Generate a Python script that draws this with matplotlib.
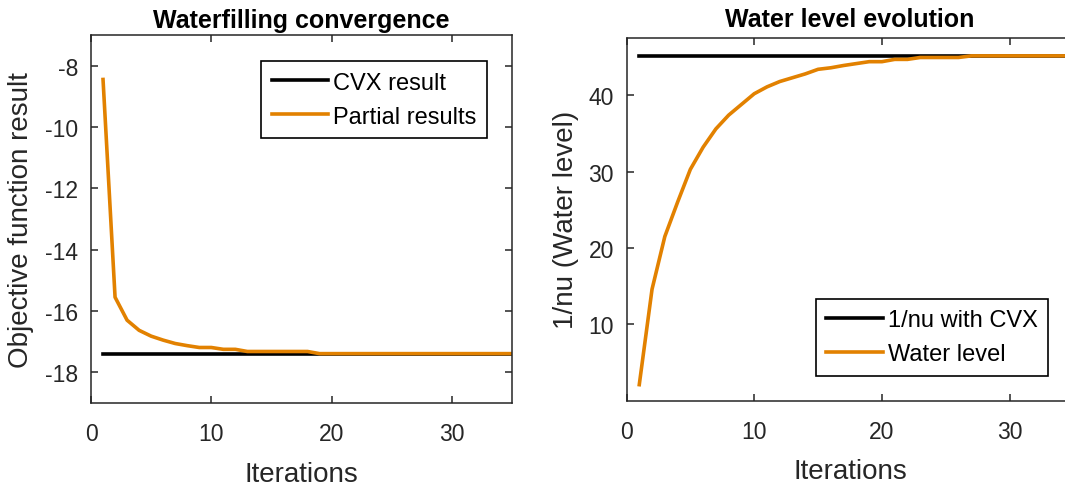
import numpy as np
import matplotlib.pyplot as plt

plt.rcParams['font.family'] = ['Liberation Sans', 'DejaVu Sans']
plt.rcParams['axes.unicode_minus'] = False

# left panel: objective value per iteration
iters = list(range(1, 36))
partial = [-8.45, -15.55, -16.30, -16.63, -16.82, -16.95, -17.06, -17.13, -17.19, -17.19,
           -17.25, -17.25, -17.32, -17.32, -17.32, -17.32, -17.32, -17.32] + [-17.39] * 17
cvx_obj = -17.40

# right panel: water level per iteration
water = [2.1, 14.6, 21.5, 26.0, 30.3, 33.2, 35.6, 37.4, 38.8, 40.2,
         41.1, 41.8, 42.3, 42.8, 43.4, 43.6, 43.9, 44.15, 44.4, 44.4,
         44.7, 44.7, 44.95, 44.95, 44.95, 44.95] + [45.16] * 9
cvx_level = 45.16

orange = '#E28100'
axcol = '#262626'

fig = plt.figure(figsize=(10.65, 4.89), dpi=100)
ax1 = fig.add_axes([91 / 1065, 85 / 489, 421 / 1065, 368 / 489])
ax2 = fig.add_axes([626.5 / 1065, 87.3 / 489, 447 / 1065, 362.7 / 489])


def style(ax):
    for s in ax.spines.values():
        s.set_color(axcol)
        s.set_linewidth(1.1)
    ax.tick_params(direction='in', length=5, width=1.1, color=axcol,
                   top=True, right=True, labelsize=16.5, labelcolor=axcol)
    ax.tick_params(axis='x', pad=14)
    ax.tick_params(axis='y', pad=9)


def legend(ax, loc, anchor):
    leg = ax.legend(loc=loc, bbox_to_anchor=anchor, borderaxespad=0,
                    fontsize=17, fancybox=False, edgecolor='black', framealpha=1,
                    handlelength=2.4, handletextpad=0.2, labelspacing=0.5, borderpad=0.45)
    leg.get_frame().set_linewidth(1.2)


# Left: convergence of the objective
ax1.plot([1, 35], [cvx_obj, cvx_obj], color='black', lw=2.6, label='CVX result')
ax1.plot(iters, partial, color=orange, lw=2.6, label='Partial results')
ax1.set_xlim(0, 35)
ax1.set_ylim(-19, -7)
ax1.set_xticks([0, 10, 20, 30])
ax1.set_yticks([-18, -16, -14, -12, -10, -8])
ax1.set_title('Waterfilling convergence', fontsize=18, fontweight='bold', pad=6)
ax1.set_xlabel('Iterations', fontsize=20, labelpad=11, color=axcol)
ax1.set_ylabel('Objective function result', fontsize=20, labelpad=8, color=axcol)
style(ax1)
legend(ax1, 'upper right', (0.9406, 0.929))

# Right: evolution of the water level
ax2.plot([1, 35], [cvx_level, cvx_level], color='black', lw=2.6, label='1/nu with CVX')
ax2.plot(iters, water, color=orange, lw=2.6, label='Water level')
ax2.set_xlim(0, 35)
ax2.set_ylim(0, 47.5)
ax2.set_xticks([0, 10, 20, 30])
ax2.set_yticks([10, 20, 30, 40])
ax2.set_title('Water level evolution', fontsize=18, fontweight='bold', pad=9)
ax2.set_xlabel('Iterations', fontsize=20, labelpad=11, color=axcol)
ax2.set_ylabel('1/nu (Water level)', fontsize=20, labelpad=7, color=axcol)
style(ax2)
legend(ax2, 'lower right', (0.943, 0.069))

fig.savefig('out.png', dpi=100)
